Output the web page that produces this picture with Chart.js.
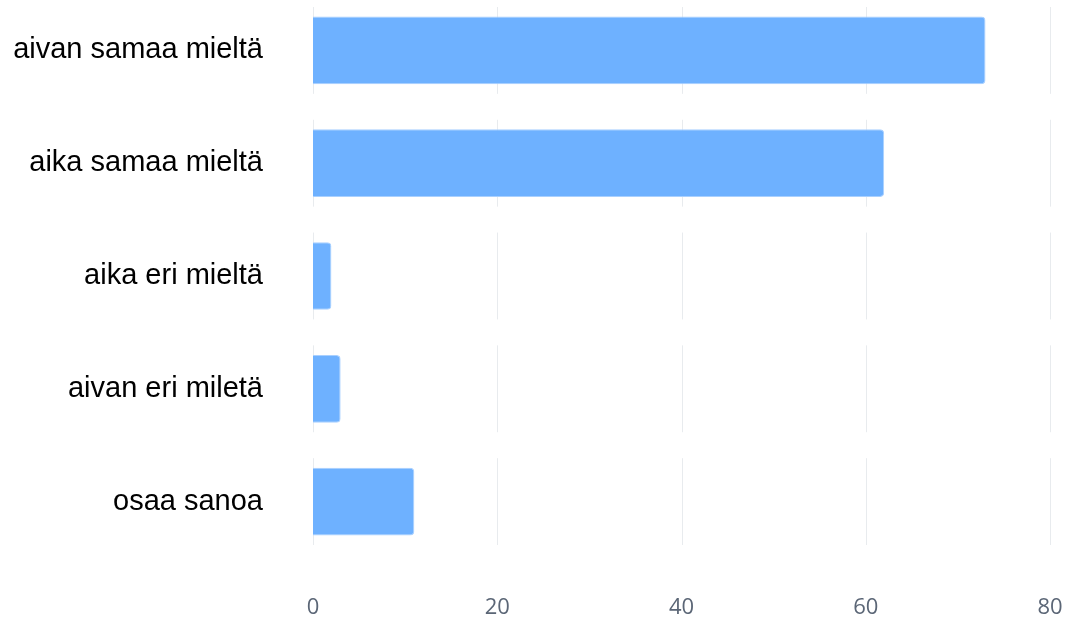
<!DOCTYPE html>
<html>
<head>
<meta charset="utf-8">
<script src="https://cdn.jsdelivr.net/npm/chart.js@4"></script>
<style>
  html, body { margin: 0; padding: 0; background: #fff; overflow: hidden; }
  #wrap { width: 1068px; height: 630px; margin-top: -6px; }
</style>
</head>
<body>
<div id="wrap"><canvas id="c"></canvas></div>
<script>
const labels = ['aivan samaa mieltä', 'aika samaa mieltä', 'aika eri mieltä', 'aivan eri miletä', 'osaa sanoa'];
const values = [73, 62, 2, 3, 11];
const xTicks = [0, 20, 40, 60, 80];

// gridlines are drawn in short pieces, one per category row
const rowGrid = {
    id: 'rowGrid',
    beforeDatasetsDraw(chart) {
        const ctx = chart.ctx;
        const x = chart.scales.x;
        const y = chart.scales.y;
        const band = Math.abs(y.getPixelForValue(1) - y.getPixelForValue(0));
        const half = band * 0.385;
        ctx.save();
        ctx.strokeStyle = '#e8ebee';
        ctx.lineWidth = 1;
        xTicks.forEach(t => {
            const px = Math.round(x.getPixelForValue(t)) + 0.5;
            labels.forEach((l, i) => {
                const cy = y.getPixelForValue(i);
                ctx.beginPath();
                ctx.moveTo(px, cy - half);
                ctx.lineTo(px, cy + half);
                ctx.stroke();
            });
        });
        ctx.restore();
    }
};

new Chart(document.getElementById('c'), {
    type: 'bar',
    data: {
        labels: labels,
        datasets: [{
            data: values,
            backgroundColor: '#6eb1ff',
            borderColor: '#a9d0ff',
            borderWidth: 1,
            borderRadius: 4,
            borderSkipped: 'start',
            categoryPercentage: 0.6,
            barPercentage: 1
        }]
    },
    options: {
        indexAxis: 'y',
        responsive: true,
        maintainAspectRatio: false,
        animation: false,
        layout: { padding: { top: 0, right: 18, left: 10, bottom: 0 } },
        plugins: {
            legend: { display: false },
            tooltip: { enabled: false }
        },
        scales: {
            x: {
                min: 0,
                max: 80,
                afterBuildTicks: (axis) => { axis.ticks = xTicks.map(v => ({ value: v })); },
                afterFit: (scale) => {
                    scale.height = 66;
                    scale.paddingLeft = 0;
                    scale.paddingRight = 0;
                },
                grid: { display: false, drawTicks: false },
                border: { display: false },
                ticks: {
                    padding: 37,
                    color: '#5b6676',
                    font: { family: 'Open Sans', size: 22 }
                }
            },
            y: {
                grid: { display: false, drawTicks: false },
                border: { display: false },
                afterFit: (scale) => {
                    scale.width = 303;
                    scale.paddingTop = 0;
                    scale.paddingBottom = 0;
                },
                ticks: {
                    padding: 50,
                    color: '#000',
                    font: { family: 'Liberation Sans', size: 29 }
                }
            }
        }
    },
    plugins: [rowGrid]
});
</script>
</body>
</html>
